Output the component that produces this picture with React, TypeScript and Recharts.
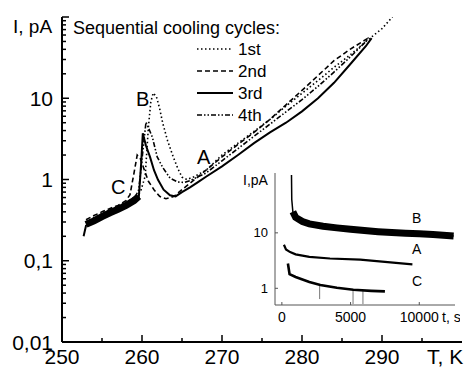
import React from "react";
import { LineChart, Line, XAxis, YAxis } from "recharts";

const FONT = "'Liberation Sans', Arial, Helvetica, sans-serif";

// main panel: current (pA) vs temperature (K), four sequential cooling cycles
const cycle1T = [253, 254, 255, 256, 257, 258, 259, 259.8, 260.4, 260.8, 261.1, 261.4, 261.8, 262.2, 262.6, 263.2, 263.9, 264.5, 265, 265.6, 266.5, 268, 270, 272, 274, 276, 278, 280, 282, 284, 286, 288, 290, 291.3];
const cycle1I = [0.3, 0.34, 0.38, 0.42, 0.47, 0.52, 0.6, 0.7, 1.1, 4.4, 9.0, 11.6, 10.5, 7.5, 4.9, 3.0, 1.9, 1.35, 1.07, 1.0, 1.08, 1.3, 2.0, 2.8, 3.9, 5.5, 8.0, 11.5, 16.5, 24, 34, 50, 72, 100];

const cycle2T = [253, 254, 255, 256, 257, 258, 258.5, 259, 259.4, 259.8, 260.3, 260.8, 261.5, 262.2, 263, 264, 265, 266, 268, 270, 272, 274, 276, 278, 280, 282, 284, 286, 288, 288.4];
const cycle2I = [0.32, 0.36, 0.4, 0.44, 0.48, 0.55, 0.65, 1.2, 2.0, 1.8, 1.3, 0.95, 0.75, 0.62, 0.58, 0.62, 0.75, 0.9, 1.3, 1.9, 2.7, 3.8, 5.5, 8.3, 12.5, 19, 29, 40, 53, 56];

const cycle3T = [252.7, 253, 254, 255, 256, 257, 258, 259, 259.6, 259.9, 260.1, 260.5, 261, 261.5, 262, 262.7, 263.5, 264.2, 265, 266, 267, 268, 270, 272, 274, 276, 278, 280, 282, 284, 286, 288, 288.7];
const cycle3I = [0.2, 0.27, 0.3, 0.33, 0.37, 0.41, 0.46, 0.52, 0.6, 1.6, 3.7, 2.6, 1.9, 1.3, 0.99, 0.75, 0.64, 0.62, 0.7, 0.8, 0.93, 1.08, 1.45, 2.0, 2.8, 3.8, 5.0, 6.9, 10, 15.5, 26, 44, 55];

const cycle4T = [253, 254, 255, 256, 257, 258, 259, 259.6, 260.1, 260.5, 261, 261.3, 261.9, 262.6, 263.5, 264.5, 265.3, 266, 268, 270, 272, 274, 276, 278, 280, 282, 284, 286, 288, 288.3];
const cycle4I = [0.29, 0.33, 0.37, 0.41, 0.45, 0.5, 0.57, 0.75, 2.2, 5.1, 3.9, 3.3, 1.9, 1.4, 1.04, 0.93, 0.92, 0.97, 1.2, 1.7, 2.4, 3.4, 4.8, 6.8, 9.6, 14, 21, 32, 50, 56];

// noisy low-temperature band where all cycles overlap
const bandT = [253, 254, 255, 256, 257, 258, 259, 259.6];
const bandI = [0.28, 0.31, 0.35, 0.39, 0.43, 0.48, 0.55, 0.62];

const cycleNames = ["1st", "2nd", "3rd", "4th"];
const cycleDash = ["1.5 2.5", "5 3", undefined, "5 2 1.5 2 1.5 2"];

const xMajorTicks = [250, 260, 270, 280, 290];
const xMinorTicks = [255, 265, 275, 285, 295];
const yMajorTicks = [0.01, 0.1, 1, 10, 100];
const yTickLabels = ["0,01", "0,1", "1", "10", ""];

// inset: current relaxation at fixed temperatures A, B, C
const relaxBT = [700, 720, 800, 1000, 1500, 2000, 3000, 4000, 5000, 6000, 7000, 8000, 9000, 10000, 11000, 12000, 12500];
const relaxBI = [110, 40, 24, 19, 16, 14.5, 13.2, 12.3, 11.6, 11, 10.5, 10.1, 9.8, 9.6, 9.3, 9.0, 8.8];
const relaxAT = [150, 300, 600, 1000, 2000, 3500, 5700, 7500, 9500];
const relaxAI = [6.1, 5.0, 4.5, 4.1, 3.7, 3.45, 3.3, 3.0, 2.7];
const relaxCT = [440, 560, 1000, 2000, 2800, 4000, 5200, 6500, 7500];
const relaxCI = [2.8, 1.8, 1.6, 1.3, 1.15, 1.02, 0.94, 0.9, 0.88];
const spikeT = [2750, 2750, 2751, 5180, 5180, 5181, 5900, 5900];
const spikeI = [1.15, 0.64, null, 0.94, 0.52, null, 0.92, 0.52];

const insetXTicks = [0, 5000, 10000];
const insetYTicks = [1, 10];

const toPoints = (ts: number[], vs: (number | null)[]) =>
  ts.map((t, i) => ({ t, v: vs[i] }));

const cycles = [
  toPoints(cycle1T, cycle1I),
  toPoints(cycle2T, cycle2I),
  toPoints(cycle3T, cycle3I),
  toPoints(cycle4T, cycle4I),
];

function MainXTick(props: any) {
  const { x, y, payload } = props;
  const major = xMajorTicks.includes(payload.value);
  return (
    <g>
      <line x1={x} x2={x} y1={y} y2={y - (major ? 7 : 4)} stroke="#000" strokeWidth={1.5} />
      {major && (
        <text x={x} y={y + 14} textAnchor="middle" dominantBaseline="central" fontSize={21} fontFamily={FONT} fill="#000">
          {payload.value}
        </text>
      )}
    </g>
  );
}

function MainYTick(props: any) {
  const { x, y, payload } = props;
  const idx = yMajorTicks.indexOf(payload.value);
  const major = idx >= 0;
  return (
    <g>
      <line x1={x} x2={x + (major ? 7 : 4)} y1={y} y2={y} stroke="#000" strokeWidth={1.5} />
      {major && yTickLabels[idx] && (
        <text x={x - 9} y={y} textAnchor="end" dominantBaseline="central" fontSize={21} fontFamily={FONT} fill="#000">
          {yTickLabels[idx]}
        </text>
      )}
    </g>
  );
}

function InsetXTick(props: any) {
  const { x, y, payload } = props;
  return (
    <g>
      <line x1={x} x2={x} y1={y} y2={y - 3} stroke="#555" />
      <text x={x} y={y + 12} textAnchor="middle" dominantBaseline="central" fontSize={14} fontFamily={FONT} fill="#000">
        {payload.value}
      </text>
    </g>
  );
}

function InsetYTick(props: any) {
  const { x, y, payload } = props;
  return (
    <g>
      <line x1={x} x2={x + 3} y1={y} y2={y} stroke="#555" />
      <text x={x - 7} y={y} textAnchor="end" dominantBaseline="central" fontSize={13} fontFamily={FONT} fill="#000">
        {payload.value}
      </text>
    </g>
  );
}

const yAllTicks: number[] = [];
yMajorTicks.slice(0, -1).forEach((d) => {
  for (let m = 1; m < 10; m++) yAllTicks.push(+(d * m).toPrecision(3));
});
yAllTicks.push(100);

function Inset() {
  return (
    <LineChart width={225} height={165} margin={{ top: 8, right: 5, bottom: 0, left: 0 }}>
      <XAxis
        type="number"
        dataKey="t"
        domain={[-500, 12600]}
        ticks={insetXTicks}
        interval={0}
        tick={<InsetXTick />}
        tickLine={false}
        tickSize={0}
        tickMargin={0}
        height={25}
        axisLine={{ stroke: "#555", strokeWidth: 1 }}
        allowDataOverflow
      />
      <XAxis xAxisId="top" orientation="top" type="number" domain={[0, 1]} height={0} tick={false} tickLine={false} axisLine={{ stroke: "#777", strokeWidth: 1 }} />
      <YAxis
        type="number"
        scale="log"
        domain={[0.5, 120]}
        ticks={insetYTicks}
        interval={0}
        tick={<InsetYTick />}
        tickLine={false}
        tickSize={0}
        tickMargin={0}
        width={40}
        axisLine={{ stroke: "#555", strokeWidth: 1 }}
        allowDataOverflow
      />
      <YAxis yAxisId="right" orientation="right" type="number" domain={[0, 1]} width={0} tick={false} tickLine={false} axisLine={{ stroke: "#777", strokeWidth: 1 }} />
      <Line data={toPoints(spikeT, spikeI)} dataKey="v" stroke="#777" strokeWidth={1} dot={false} isAnimationActive={false} />
      <Line data={toPoints(relaxBT, relaxBI)} dataKey="v" stroke="#000" strokeWidth={1.5} dot={false} isAnimationActive={false} />
      <Line data={toPoints(relaxBT.slice(2), relaxBI.slice(2))} dataKey="v" stroke="#000" strokeWidth={7} dot={false} isAnimationActive={false} />
      <Line data={toPoints(relaxAT, relaxAI)} dataKey="v" stroke="#000" strokeWidth={2.2} dot={false} isAnimationActive={false} />
      <Line data={toPoints(relaxCT, relaxCI)} dataKey="v" stroke="#000" strokeWidth={2.6} dot={false} isAnimationActive={false} />
    </LineChart>
  );
}

const txt = { fontFamily: FONT, fill: "#000" };

export default function App() {
  return (
    <div style={{ position: "relative", width: 464, height: 367, background: "#fff" }}>
      <style>{`body{margin:0}`}</style>
      <LineChart width={464} height={367} margin={{ top: 17, right: 2, bottom: 0, left: 0 }}>
        <XAxis
          type="number"
          dataKey="t"
          domain={[250, 300]}
          ticks={[...xMajorTicks, ...xMinorTicks]}
          interval={0}
          tick={<MainXTick />}
          tickLine={false}
          tickSize={0}
          tickMargin={0}
          height={25}
          axisLine={{ stroke: "#000", strokeWidth: 2 }}
          allowDataOverflow
        />
        <XAxis xAxisId="top" orientation="top" type="number" domain={[0, 1]} height={0} tick={false} tickLine={false} axisLine={{ stroke: "#444", strokeWidth: 2 }} />
        <YAxis
          type="number"
          scale="log"
          domain={[0.01, 100]}
          ticks={yAllTicks}
          interval={0}
          tick={<MainYTick />}
          tickLine={false}
          tickSize={0}
          tickMargin={0}
          width={62}
          axisLine={{ stroke: "#000", strokeWidth: 2 }}
          allowDataOverflow
        />
        <YAxis yAxisId="right" orientation="right" type="number" domain={[0, 1]} width={0} tick={false} tickLine={false} axisLine={{ stroke: "#444", strokeWidth: 2 }} />
        <Line data={toPoints(bandT, bandI)} dataKey="v" stroke="#000" strokeWidth={7} dot={false} isAnimationActive={false} />
        {cycles.map((pts, i) => (
          <Line
            key={cycleNames[i]}
            data={pts}
            dataKey="v"
            name={cycleNames[i]}
            stroke="#000"
            strokeWidth={i === 2 ? 2 : 1.6}
            strokeDasharray={cycleDash[i]}
            dot={false}
            isAnimationActive={false}
          />
        ))}
      </LineChart>

      <svg width={464} height={367} style={{ position: "absolute", left: 0, top: 0, pointerEvents: "none" }}>
        <text x={13} y={33} fontSize={19} {...txt}>I, pA</text>
        <text x={427} y={364} fontSize={21} {...txt}>T, K</text>
        <text x={73} y={34} fontSize={18} {...txt}>Sequential cooling cycles:</text>
        {cycleNames.map((n, i) => (
          <g key={n}>
            <line x1={197} x2={233} y1={49 + i * 22} y2={49 + i * 22} stroke="#000" strokeWidth={i === 2 ? 2 : 1.6} strokeDasharray={cycleDash[i]} />
            <text x={238} y={55 + i * 22} fontSize={17} {...txt}>{n}</text>
          </g>
        ))}
        <text x={136} y={106} fontSize={20} {...txt}>B</text>
        <text x={197} y={164} fontSize={20} {...txt}>A</text>
        <text x={111} y={194} fontSize={20} {...txt}>C</text>
      </svg>

      <div style={{ position: "absolute", left: 235, top: 165 }}>
        <Inset />
        <svg width={225} height={165} style={{ position: "absolute", left: 0, top: 0, pointerEvents: "none" }}>
          <text x={8} y={20} fontSize={14} {...txt}>I,pA</text>
          <text x={207} y={157} fontSize={14} {...txt}>t, s</text>
          <text x={177} y={58} fontSize={14} {...txt}>B</text>
          <text x={177} y={89} fontSize={14} {...txt}>A</text>
          <text x={177} y={121} fontSize={14} {...txt}>C</text>
        </svg>
      </div>
    </div>
  );
}
